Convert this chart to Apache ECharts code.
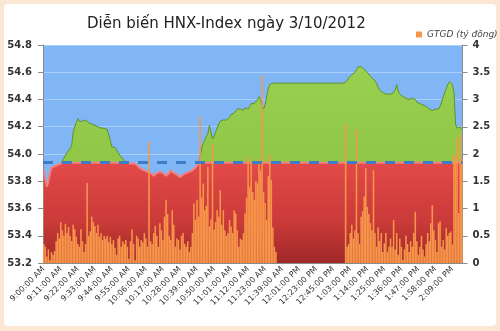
<!DOCTYPE html>
<html><head><meta charset="utf-8">
<script src="https://cdn.jsdelivr.net/npm/echarts@6/dist/echarts.min.js"></script>
<style>
html,body{margin:0;padding:0;}
#wrap{position:relative;width:500px;height:331px;background:#fce6d4;overflow:hidden;}
#panel{position:absolute;left:4px;top:4px;width:492px;height:322px;background:#ffffff;border-radius:4px;}
#chart{position:absolute;left:0;top:0;width:500px;height:331px;}
</style></head>
<body><div id="wrap"><div id="panel"></div><div id="chart"></div></div>
<script>
// time segments: [start minute of day, step in minutes, count]
const timeSegments = [[540,1,151],[693,2,44],[780,1,76]];
const refLevel = 53.935;
const indexValues = [
53.88,53.82,53.76,53.80,53.86,53.90,53.91,53.91,53.92,53.92,
53.93,53.93,53.95,53.97,53.99,54.01,54.02,54.04,54.06,54.16,
54.20,54.23,54.26,54.24,54.25,54.24,54.23,54.25,54.24,54.23,
54.24,54.22,54.23,54.21,54.22,54.20,54.20,54.19,54.19,54.19,
54.18,54.18,54.17,54.10,54.05,54.04,54.05,54.03,54.01,54.00,
53.98,53.97,53.95,53.94,53.93,53.93,53.93,53.93,53.93,53.93,
53.92,53.91,53.90,53.89,53.88,53.88,53.87,53.87,53.86,53.86,
53.85,53.84,53.85,53.86,53.86,53.87,53.87,53.86,53.85,53.84,
53.83,53.86,53.88,53.87,53.86,53.86,53.85,53.84,53.83,53.83,
53.85,53.86,53.86,53.87,53.87,53.88,53.88,53.89,53.90,53.91,
53.93,53.98,54.04,54.08,54.10,54.13,54.15,54.21,54.16,54.11,
54.13,54.16,54.19,54.22,54.24,54.24,54.25,54.26,54.25,54.26,
54.27,54.29,54.28,54.30,54.31,54.33,54.34,54.33,54.32,54.32,
54.34,54.33,54.33,54.35,54.37,54.36,54.37,54.36,54.40,54.42,
54.40,54.35,54.33,54.36,54.42,54.48,54.51,54.51,54.52,54.52,
54.52,54.52,54.52,54.52,54.52,54.52,54.52,54.52,54.52,54.52,
54.52,54.52,54.52,54.52,54.52,54.52,54.52,54.52,54.52,54.52,
54.52,54.52,54.52,54.52,54.52,54.52,54.52,54.52,54.52,54.52,
54.52,54.52,54.52,54.52,54.52,54.52,54.52,54.52,54.52,54.52,
54.52,54.52,54.52,54.52,54.52,54.52,54.54,54.56,54.57,54.58,
54.59,54.60,54.62,54.64,54.65,54.64,54.63,54.62,54.61,54.60,
54.59,54.57,54.56,54.55,54.54,54.52,54.49,54.47,54.46,54.45,
54.45,54.44,54.44,54.44,54.43,54.44,54.44,54.47,54.51,54.46,
54.44,54.43,54.42,54.41,54.41,54.40,54.40,54.40,54.41,54.42,
54.40,54.38,54.37,54.37,54.36,54.36,54.35,54.35,54.34,54.33,
54.32,54.32,54.32,54.33,54.33,54.33,54.35,54.38,54.42,54.45,
54.48,54.51,54.53,54.52,54.51,54.45,54.22,54.19,54.20,54.20,
54.18];
const volumeValues = [
0.35,0.30,0.12,0.25,0.05,0.20,0.15,0.22,0.40,0.55,
0.45,0.75,0.60,0.50,0.72,0.55,0.66,0.50,0.40,0.70,
0.62,0.48,0.35,0.30,0.62,0.40,0.20,0.35,1.47,0.50,
0.58,0.85,0.75,0.68,0.55,0.70,0.48,0.55,0.42,0.50,
0.45,0.50,0.38,0.48,0.35,0.42,0.28,0.15,0.45,0.50,
0.30,0.40,0.35,0.42,0.30,0.08,0.40,0.62,0.35,0.05,
0.50,0.45,0.30,0.42,0.38,0.55,0.45,0.30,2.23,0.40,
0.35,0.55,0.68,0.50,0.30,0.73,0.60,0.42,0.85,1.16,
0.90,0.50,0.42,0.97,0.70,0.30,0.45,0.42,0.25,0.50,
0.55,0.35,0.30,0.40,0.20,0.30,0.55,1.09,0.79,1.16,
0.85,2.70,1.20,1.46,0.97,1.05,1.76,0.67,0.80,2.17,
0.61,0.75,0.97,0.85,1.34,0.70,0.97,0.60,0.50,0.55,
0.79,0.67,0.55,0.97,0.91,0.60,0.30,0.45,0.42,0.55,
0.91,1.20,1.95,1.40,1.86,1.30,1.16,1.50,1.46,1.90,
1.70,3.45,1.30,1.10,0.79,1.60,1.98,1.52,0.65,0.30,
0.20,0,0,0,0,0,0,0,0,0,
0,0,0,0,0,0,0,0,0,0,
0,0,0,0,0,0,0,0,0,0,
0,0,0,0,0,0,0,0,0,0,
0,0,0,0,0,2.55,0.30,0.35,0.55,0.70,
0.45,0.60,2.45,0.55,0.35,0.85,0.95,1.22,1.74,1.03,
0.90,0.73,0.60,1.70,0.55,0.30,0.65,0.40,0.55,0.20,
0.36,0.55,0.20,0.30,0.45,0.30,0.79,0.25,0.55,0.15,
0.45,0.30,0.06,0.25,0.50,0.35,0.20,0.40,0.30,0.55,
0.94,0.40,0.15,0.30,0.50,0.25,0.12,0.35,0.55,0.40,
0.73,1.06,0.60,0.42,0.20,0.73,0.76,0.30,0.42,0.25,
0.64,0.50,0.55,0.58,0.34,2.00,1.95,2.30,0.92,2.35,
1.90];

function fmtTime(m){
  const h = Math.floor(m/60), mm = m%60;
  const ap = h >= 12 ? 'PM' : 'AM';
  const h12 = h > 12 ? h - 12 : h;
  return h12 + ':' + String(mm).padStart(2,'0') + ':00 ' + ap;
}
const categories = [];
timeSegments.forEach(function(s){ for (let k=0;k<s[2];k++) categories.push(fmtTime(s[0]+k*s[1])); });
const belowRef = indexValues.map(function(v){ return Math.min(v, refLevel); });

let titleText = 'Diễn biến HNX-Index ngày 3/10/2012';
if (indexValues.length !== categories.length || volumeValues.length !== categories.length) {
  titleText = 'LEN ' + categories.length + ' ' + indexValues.length + ' ' + volumeValues.length;
}

const chart = echarts.init(document.getElementById('chart'), null, {renderer:'canvas'});
chart.setOption({
  animation:false,
  backgroundColor:'transparent',
  title:{text:titleText,left:82,top:12,textStyle:{fontFamily:'DejaVu Sans',fontSize:15,fontWeight:'normal',color:'#222'}},
  legend:{data:['GTGD (tỷ đồng)'],left:411,top:25,icon:'rect',itemWidth:6,itemHeight:6,itemGap:4,
    textStyle:{fontFamily:'DejaVu Sans',fontSize:9,fontStyle:'italic',color:'#444'}},
  grid:{left:43,right:37.5,top:45,bottom:68,show:true,backgroundColor:'#80b6f6',borderWidth:0},
  xAxis:{type:'category',data:categories,boundaryGap:true,
    axisLine:{lineStyle:{color:'#8a8a8a'}},
    axisTick:{interval:0,length:3,lineStyle:{color:'#9a9a9a'}},
    axisLabel:{interval:10,rotate:45,fontSize:8,fontFamily:'DejaVu Sans',color:'#333',margin:5}},
  yAxis:[
    {type:'value',min:53.2,max:54.8,interval:0.2,
     axisLine:{show:true,lineStyle:{color:'#8a8a8a'}},
     axisTick:{show:true,length:5,lineStyle:{color:'#8a8a8a'}},
     axisLabel:{formatter:function(v){return v.toFixed(1);},fontSize:10,fontWeight:'bold',fontFamily:'DejaVu Sans',color:'#333',margin:11},
     splitLine:{show:true,lineStyle:{color:'rgba(255,255,255,0.35)',width:1}}},
    {type:'value',min:0,max:4,interval:0.5,position:'right',
     axisLine:{show:true,lineStyle:{color:'#8a8a8a'}},
     axisTick:{show:true,length:5,lineStyle:{color:'#8a8a8a'}},
     axisLabel:{fontSize:10,fontWeight:'bold',fontFamily:'DejaVu Sans',color:'#333',margin:10},
     splitLine:{show:false}}
  ],
  series:[
    {name:'HNX-Index',type:'line',data:indexValues,yAxisIndex:0,showSymbol:false,z:1,
     lineStyle:{color:'#5f9226',width:1},
     areaStyle:{origin:'start',opacity:1,color:new echarts.graphic.LinearGradient(0,0,0,1,[{offset:0,color:'#9ad050'},{offset:1,color:'#86bd3c'}])}},
    {name:'Tham chiếu',type:'line',data:belowRef,yAxisIndex:0,showSymbol:false,z:2,
     lineStyle:{color:'#f28080',width:2},
     areaStyle:{origin:'start',opacity:1,color:new echarts.graphic.LinearGradient(0,0,0,1,[{offset:0,color:'#e24a48'},{offset:0.6,color:'#c93a38'},{offset:1,color:'#9e2828'}])}},
    {name:'GTGD (tỷ đồng)',type:'bar',data:volumeValues,yAxisIndex:1,barCategoryGap:'0%',z:3,
     itemStyle:{color:'#f7964a'},
     markLine:{silent:true,symbol:'none',label:{show:false},
       lineStyle:{color:'#3d7dc8',width:3,type:[10,9]},
       data:[{yAxis:(refLevel-53.2)/1.6*4}]}}
  ]
});
</script></body></html>
